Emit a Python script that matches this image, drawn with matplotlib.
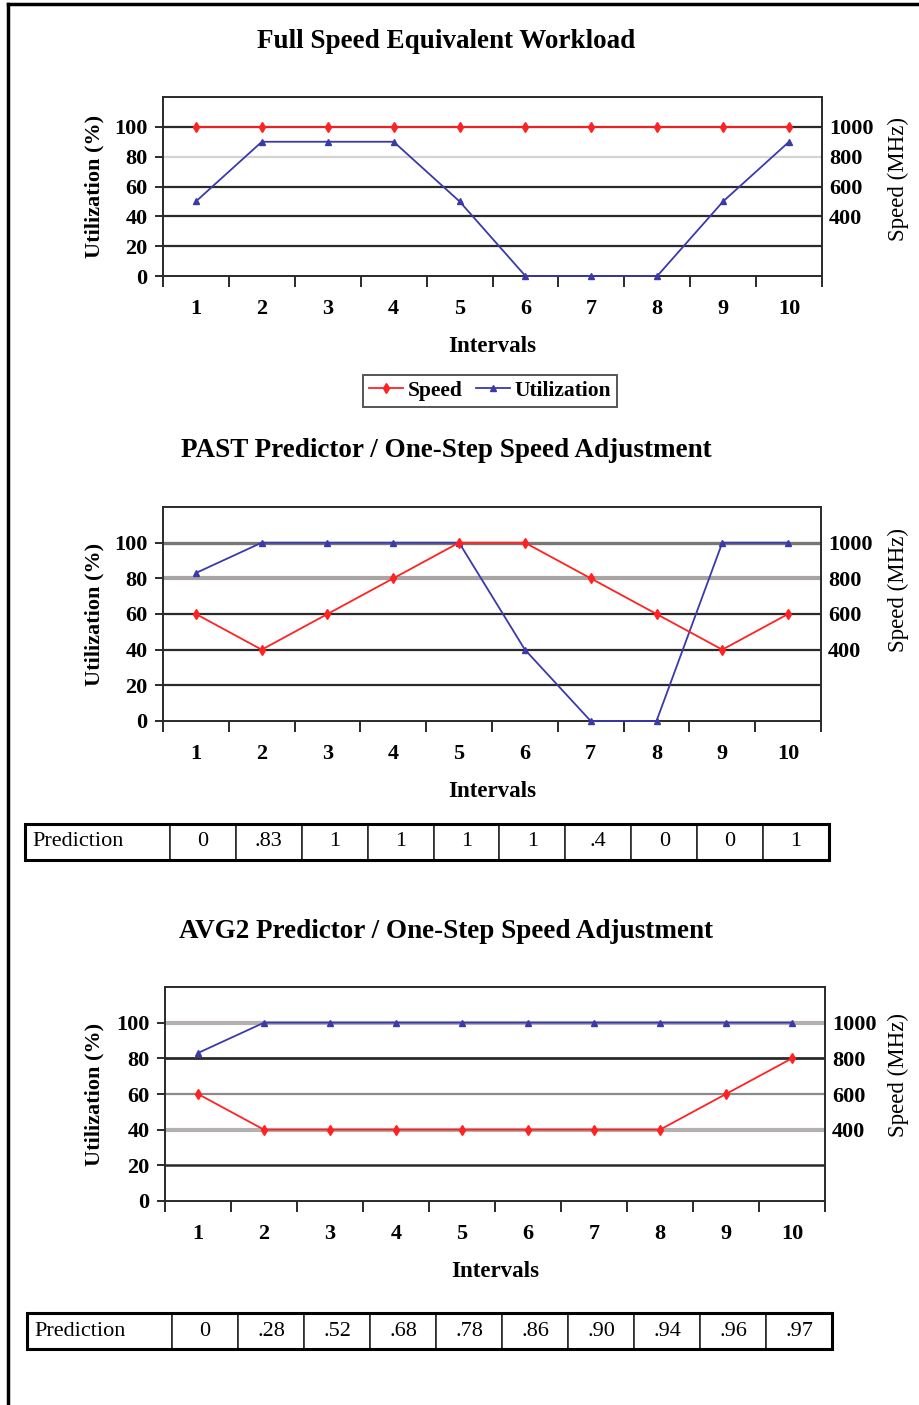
import matplotlib
matplotlib.use("Agg")
import matplotlib.pyplot as plt
from matplotlib.lines import Line2D

plt.rcParams["font.family"] = ["Liberation Serif", "DejaVu Serif"]

# --- data ---
intervals = [1, 2, 3, 4, 5, 6, 7, 8, 9, 10]

full_util = [50, 90, 90, 90, 50, 0, 0, 0, 50, 90]
full_speed = [1000, 1000, 1000, 1000, 1000, 1000, 1000, 1000, 1000, 1000]

past_util = [83, 100, 100, 100, 100, 40, 0, 0, 100, 100]
past_speed = [600, 400, 600, 800, 1000, 1000, 800, 600, 400, 600]
past_pred = ["0", ".83", "1", "1", "1", "1", ".4", "0", "0", "1"]

avg2_util = [83, 100, 100, 100, 100, 100, 100, 100, 100, 100]
avg2_speed = [600, 400, 400, 400, 400, 400, 400, 400, 600, 800]
avg2_pred = ["0", ".28", ".52", ".68", ".78", ".86", ".90", ".94", ".96", ".97"]

titles = [
    "Full Speed Equivalent Workload",
    "PAST Predictor / One-Step Speed Adjustment",
    "AVG2 Predictor / One-Step Speed Adjustment",
]

util_ticks = [0, 20, 40, 60, 80, 100]
speed_ticks = [400, 600, 800, 1000]

RED = "#ff2222"
BLUE = "#3a3aa8"
DARK = "#2a2a2a"

W, H = 920, 1405
fig = plt.figure(figsize=(W / 100, H / 100), dpi=100)


def fx(px):
    return px / W


def fy(py):
    return 1 - py / H


# gridline styles per panel: (value, colour, width)
grid_styles = [
    [(20, DARK, 1.6), (40, DARK, 1.6), (60, DARK, 1.6), (80, "#d4d4d4", 1.6), (100, DARK, 1.6)],
    [(20, DARK, 1.6), (40, DARK, 1.6), (60, DARK, 1.6), (80, "#a8a4a4", 3.0), (100, "#7a7676", 2.4)],
    [(20, DARK, 1.8), (40, "#b4b0b0", 3.0), (60, "#8a8a8a", 1.6), (80, DARK, 2.0), (100, "#b4b0b0", 3.0)],
]

# axes boxes in pixels: left, right, top, bottom
boxes = [
    (163, 822, 97, 276),
    (163, 821, 507, 721),
    (165, 825, 987, 1201),
]
title_y = [41, 450, 931]
speed_label_y = [0.54, 0.61, 0.59]

panels = [
    (full_util, full_speed),
    (past_util, past_speed),
    (avg2_util, avg2_speed),
]

axes = []
for i, ((util, speed), (l, r, t, b)) in enumerate(zip(panels, boxes)):
    ax = fig.add_axes([fx(l), fy(b), fx(r - l), (b - t) / H])
    ax.set_xlim(0.5, 10.5)
    ax.set_ylim(0, 120)
    for val, col, lw in grid_styles[i]:
        ax.axhline(val, color=col, lw=lw, zorder=1)
    for s in ax.spines.values():
        s.set_color(DARK)
        s.set_linewidth(1.4)

    ax.plot(intervals, util, color=BLUE, lw=1.3, marker="^", ms=4,
            zorder=3, clip_on=False)

    # category boundaries get the tick marks, centres get the labels
    ax.set_xticks([x + 0.5 for x in [0] + intervals])
    ax.set_xticklabels([])
    ax.set_xticks(intervals, minor=True)
    ax.set_xticklabels([str(v) for v in intervals], minor=True,
                       fontsize=16, fontweight="bold")
    ax.tick_params(axis="x", which="major", length=8, width=1.4, color=DARK,
                   direction="out")
    ax.tick_params(axis="x", which="minor", length=0, pad=16.5)
    ax.set_yticks(util_ticks)
    ax.set_yticklabels([str(v) for v in util_ticks], fontsize=16,
                       fontweight="bold")
    ax.tick_params(axis="y", length=6, width=1.4, color=DARK, pad=5)
    ax.set_xlabel("Intervals", fontsize=16.5, fontweight="bold", labelpad=12)
    ax.set_ylabel("Utilization (%)", fontsize=16, fontweight="bold")
    ax.yaxis.set_label_coords((104 - l) / (r - l), 0.5)

    ax2 = ax.twinx()
    ax2.set_ylim(0, 1200)
    ax2.plot(intervals, speed, color=RED, lw=1.3, marker="d", ms=5.5,
             zorder=3, clip_on=False)
    ax2.set_yticks(speed_ticks)
    ax2.set_yticklabels([str(v) for v in speed_ticks], fontsize=16,
                        fontweight="bold")
    ax2.tick_params(axis="y", length=0, pad=5)
    ax2.set_ylabel("Speed (MHz)", fontsize=16.5, rotation=90)
    ax2.yaxis.set_label_coords((888 - l) / (r - l), speed_label_y[i])
    for s in ax2.spines.values():
        s.set_visible(False)

    fig.text(fx(446), fy(title_y[i]), titles[i], ha="center", va="center",
             fontsize=19.5, fontweight="bold")
    axes.append(ax)

# legend under first chart
handles = [
    Line2D([], [], color=RED, lw=1.3, marker="d", ms=5.5),
    Line2D([], [], color=BLUE, lw=1.3, marker="^", ms=4),
]
leg = fig.legend(handles, ["Speed", "Utilization"], loc="center",
                 bbox_to_anchor=(fx(490), fy(391)), ncol=2,
                 prop={"weight": "bold", "size": 15.5}, frameon=True, fancybox=False,
                 handlelength=1.6, handletextpad=0.2, columnspacing=0.6,
                 borderpad=0.3)
leg.get_frame().set_edgecolor(DARK)
leg.get_frame().set_linewidth(1.4)

# prediction tables
tables = [
    (past_pred, (25, 829, 824, 860)),
    (avg2_pred, (27, 832, 1313, 1349)),
]
for preds, (l, r, t, b) in tables:
    tax = fig.add_axes([fx(l), fy(b), fx(r - l), (b - t) / H])
    tax.axis("off")
    first = 145 / (r - l)
    rest = (1 - first) / len(preds)
    tbl = tax.table(cellText=[["Prediction"] + preds],
                    colWidths=[first] + [rest] * len(preds),
                    cellLoc="center", bbox=[0, 0, 1, 1])
    tbl.auto_set_font_size(False)
    for (row, col), cell in tbl.get_celld().items():
        cell.set_edgecolor(DARK)
        cell.set_linewidth(1.2)
        cell.get_text().set_fontsize(16)
        if col == 0:
            cell.get_text().set_ha("left")
            cell._loc = "left"
            cell.PAD = 0.05
    tax.add_patch(plt.Rectangle((0, 0), 1, 1, transform=tax.transAxes,
                                fill=False, ec="black", lw=2.2, clip_on=False))

# page border (top and left edges)
fig.add_artist(Line2D([fx(8), 1], [fy(4), fy(4)], color="black", lw=2.5))
fig.add_artist(Line2D([fx(8), fx(8)], [fy(4), 0], color="black", lw=2.5))

fig.savefig("out.png", dpi=100)
